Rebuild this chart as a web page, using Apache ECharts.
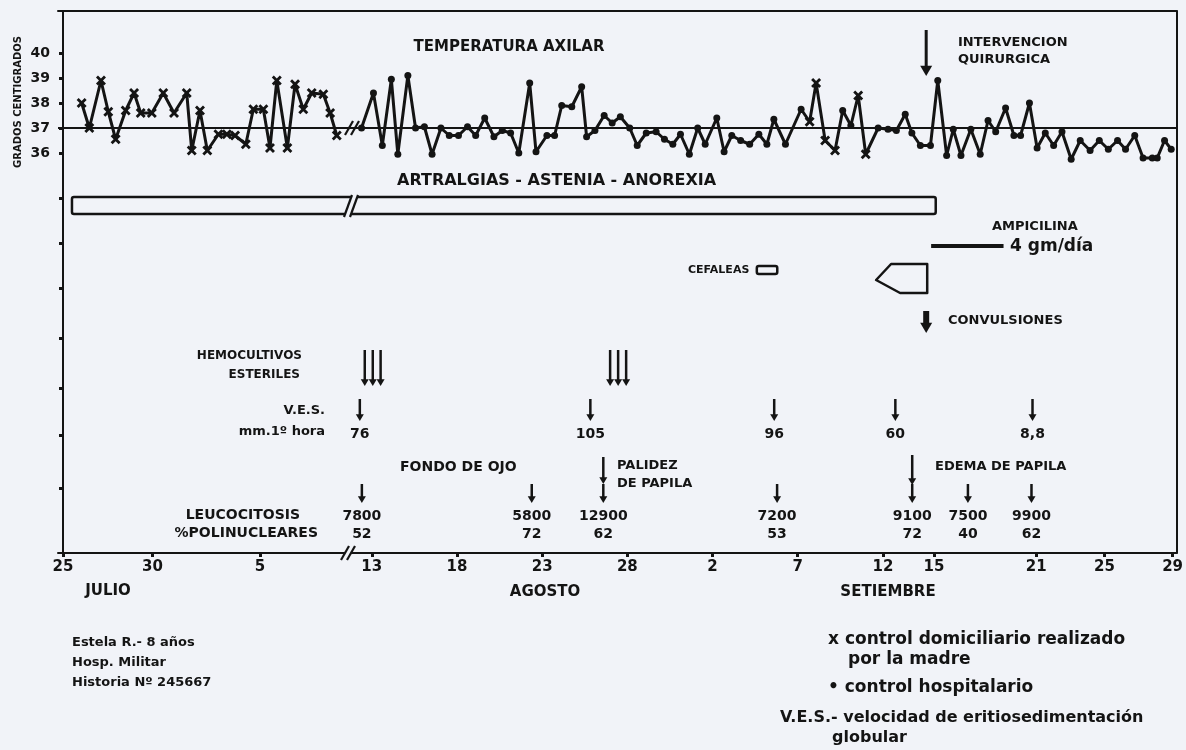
<!DOCTYPE html>
<html>
<head>
<meta charset="utf-8">
<title>Temperatura axilar</title>
<script src="https://cdn.jsdelivr.net/npm/echarts@6/dist/echarts.min.js"></script>
<style>
html, body { margin: 0; padding: 0; background: #f1f3f8; }
#chart { width: 1186px; height: 750px; }
</style>
</head>
<body>
<div id="chart"></div>
<script>
// days are counted from 25 July (0) ; the axis is broken around 9-11 August
var tickDays   = [0, 5, 11, 19, 24, 29, 34, 39, 44, 49, 52, 58, 62, 66];
var tickLabels = ['25', '30', '5', '13', '18', '23', '28', '2', '7', '12', '15', '21', '25', '29'];
var tempTicks  = [36, 37, 38, 39, 40];

// control domiciliario (x) before the break
var homeDay  = [1.04, 1.47, 2.12, 2.53, 2.94, 3.50, 3.97, 4.34, 4.96, 5.60, 6.20, 6.91, 7.19, 7.65, 8.06,
                8.68, 9.15, 9.61, 10.21, 10.63, 11.19, 11.56, 11.94, 12.53, 12.96, 13.42, 13.89, 14.54, 14.92, 15.29];
var homeTemp = [38.0, 37.0, 38.9, 37.65, 36.55, 37.7, 38.4, 37.6, 37.6, 38.4, 37.6, 38.4, 36.1, 37.7, 36.1,
                36.75, 36.75, 36.7, 36.35, 37.75, 37.75, 36.2, 38.9, 36.2, 38.75, 37.75, 38.4, 38.35, 37.6, 36.7];

// control hospitalario (.) after the break
var hospDay  = [18.40, 19.10, 19.62, 20.15, 20.53, 21.12, 21.57, 22.09, 22.54, 23.06, 23.55, 24.09, 24.62, 25.10,
                25.63, 26.17, 26.66, 27.15, 27.63, 28.27, 28.64, 29.28, 29.73, 30.15, 30.74, 31.32, 31.61, 32.10,
                32.64, 33.11, 33.59, 34.14, 34.58, 35.11, 35.69, 36.18, 36.67, 37.12, 37.64, 38.13, 38.57, 39.25,
                39.68, 40.13, 40.65, 41.18, 41.72, 42.19, 42.60, 43.28, 44.20, 44.70, 45.08, 45.61, 46.19, 46.64,
                47.12, 47.55, 47.99, 48.72, 49.30, 49.79, 50.31, 50.70, 51.20, 51.79, 52.22, 52.74, 53.13, 53.58,
                54.16, 54.71, 55.17, 55.62, 56.20, 56.69, 57.08, 57.60, 58.05, 58.53, 59.02, 59.51, 60.05, 60.58,
                61.16, 61.70, 62.23, 62.77, 63.24, 63.78, 64.27, 64.81, 65.10, 65.53, 65.92];
var hospTemp = [37.0, 38.4, 36.3, 38.95, 35.95, 39.1, 37.0, 37.05, 35.95, 37.0, 36.7, 36.7, 37.05, 36.7,
                37.4, 36.65, 36.9, 36.8, 36.0, 38.8, 36.05, 36.7, 36.7, 37.9, 37.85, 38.65, 36.65, 36.9,
                37.5, 37.2, 37.45, 37.0, 36.3, 36.8, 36.85, 36.55, 36.35, 36.75, 35.95, 37.0, 36.35, 37.4,
                36.05, 36.7, 36.5, 36.35, 36.75, 36.35, 37.35, 36.35, 37.75, 37.25, 38.8, 36.5, 36.1, 37.7,
                37.1, 38.3, 35.95, 37.0, 36.95, 36.9, 37.55, 36.8, 36.3, 36.3, 38.9, 35.9, 36.95, 35.9,
                36.95, 35.95, 37.3, 36.85, 37.8, 36.7, 36.7, 38.0, 36.2, 36.8, 36.3, 36.85, 35.75, 36.5,
                36.1, 36.5, 36.15, 36.5, 36.15, 36.7, 35.8, 35.8, 35.8, 36.5, 36.15];
// readings of the second period also taken at home
var homeLateDay = [44.70, 45.08, 45.61, 46.19, 47.55, 47.99];

// events and laboratory
var surgeryDay = 51.54;
var symptomSpan = [0.5, 52.1];      // artralgias - astenia - anorexia
var cefaleaSpan = [41.6, 42.8];
var cefaleaLate = [48.6, 51.6];
var ampicilinaSpan = [51.83, 56.08];
var convulsionDay = 51.54;
var hemoDay = [18.59, 19.06, 19.52, 32.99, 33.46, 33.93];
var vesDay = [18.3, 31.83, 42.62, 49.73, 57.78];
var vesValue = ['76', '105', '96', '60', '8,8'];
var palidezDay = 32.59;
var edemaDay = 50.72;
var leucoDay = [18.42, 28.39, 32.59, 42.79, 50.72, 53.99, 57.72];
var leucoCount = ['7800', '5800', '12900', '7200', '9100', '7500', '9900'];
var leucoPoly = ['52', '72', '62', '53', '72', '40', '62'];

var INK = '#141414';
var FONT = '"DejaVu Sans", sans-serif';
var X_MARK = 'path://M2,0 L5,3 L8,0 L10,2 L7,5 L10,8 L8,10 L5,7 L2,10 L0,8 L3,5 L0,2 Z';

function pairs(xs, ys) {
  return xs.map(function (x, i) { return [x, ys[i]]; });
}

var hospData = hospDay.map(function (d, i) {
  var atHome = homeLateDay.indexOf(d) >= 0;
  return { value: [d, hospTemp[i]], symbol: atHome ? X_MARK : 'circle', symbolSize: atHome ? 10 : 7 };
});

function tickLabel(v) {
  var i = tickDays.indexOf(v);
  return i < 0 ? '' : tickLabels[i];
}

var axisFont = { color: INK, fontFamily: FONT, fontWeight: 'bold', fontSize: 15 };
var line37 = {
  silent: true, symbol: 'none', label: { show: false },
  lineStyle: { color: INK, width: 2, type: 'solid' },
  data: [{ yAxis: 37 }]
};

var option = {
  backgroundColor: '#f1f3f8',
  animation: false,
  grid: [
    { left: 58, width: 287, top: 11, bottom: 197 },
    { left: 345, right: 4, top: 11, bottom: 197 }
  ],
  xAxis: [
    {
      gridIndex: 0, type: 'value', min: -0.28, max: 15.75, position: 'bottom',
      axisLine: { lineStyle: { color: INK, width: 2 } },
      axisTick: { customValues: tickDays.filter(function (d) { return d < 16; }), length: 4, lineStyle: { color: INK, width: 3 } },
      axisLabel: { customValues: tickDays.filter(function (d) { return d < 16; }), formatter: tickLabel, margin: 7 },
      splitLine: { show: false }
    },
    {
      gridIndex: 1, type: 'value', min: 17.43, max: 66.23, position: 'bottom',
      axisLine: { lineStyle: { color: INK, width: 2 } },
      axisTick: { customValues: tickDays.filter(function (d) { return d > 16; }), length: 4, lineStyle: { color: INK, width: 3 } },
      axisLabel: { customValues: tickDays.filter(function (d) { return d > 16; }), formatter: tickLabel, margin: 7, showMaxLabel: true },
      splitLine: { show: false }
    },
    {
      gridIndex: 0, type: 'value', min: -0.28, max: 15.75, position: 'top',
      axisLine: { lineStyle: { color: INK, width: 2 } },
      axisTick: { show: false }, axisLabel: { show: false }, splitLine: { show: false }
    },
    {
      gridIndex: 1, type: 'value', min: 17.43, max: 66.23, position: 'top',
      axisLine: { lineStyle: { color: INK, width: 2 } },
      axisTick: { show: false }, axisLabel: { show: false }, splitLine: { show: false }
    }
  ],
  yAxis: [
    {
      gridIndex: 0, type: 'value', min: 20, max: 41.68, position: 'left',
      axisLine: { show: true, lineStyle: { color: INK, width: 2 } },
      axisTick: { show: true, customValues: [22.6, 24.7, 26.6, 28.6, 30.6, 32.4, 34.2, 36, 37, 38, 39, 40], length: 4, lineStyle: { color: INK, width: 3 } },
      axisLabel: { customValues: tempTicks, margin: 8, fontSize: 14 },
      splitLine: { show: false }
    },
    {
      gridIndex: 1, type: 'value', min: 20, max: 41.68, position: 'right',
      axisLine: { show: true, lineStyle: { color: INK, width: 2 } },
      axisTick: { show: false }, axisLabel: { show: false }, splitLine: { show: false }
    }
  ],
  series: [
    {
      name: 'control domiciliario', type: 'line', xAxisIndex: 0, yAxisIndex: 0,
      data: pairs(homeDay, homeTemp),
      symbol: X_MARK, symbolSize: 10,
      itemStyle: { color: INK }, lineStyle: { color: INK, width: 3 },
      markLine: line37
    },
    {
      name: 'control hospitalario', type: 'line', xAxisIndex: 1, yAxisIndex: 1,
      data: hospData,
      symbol: 'circle', symbolSize: 7,
      itemStyle: { color: INK }, lineStyle: { color: INK, width: 3 },
      markLine: line37
    }
  ]
};
option.xAxis.forEach(function (a) { a.axisLabel = Object.assign({}, axisFont, a.axisLabel); });
option.yAxis[0].axisLabel = Object.assign({}, axisFont, option.yAxis[0].axisLabel);

var myChart = echarts.init(document.getElementById('chart'));
myChart.setOption(option);

function txt(s, x, y, size, align) {
  return {
    type: 'text', z: 10,
    style: { text: s, x: x, y: y, fill: INK, font: 'bold ' + size + 'px ' + FONT,
             textAlign: align || 'left', textVerticalAlign: 'middle' }
  };
}

function arrow(x, y1, y2, w, hw) {
  hw = hw || 5;
  var hl = hw * 1.7;
  return [
    { type: 'line', z: 10, shape: { x1: x, y1: y1, x2: x, y2: y2 - hl + 1 }, style: { stroke: INK, lineWidth: w } },
    { type: 'polygon', z: 10, shape: { points: [[x - hw, y2 - hl], [x + hw, y2 - hl], [x, y2]] }, style: { fill: INK } }
  ];
}

function slashes(x, y, h, gapFill) {
  var out = [];
  if (gapFill) {
    out.push({ type: 'polygon', z: 11, shape: { points: [[x - 4, y + h], [x + 2, y + h], [x + 10, y - h], [x + 4, y - h]] },
               style: { fill: '#f1f3f8' } });
  }
  [0, 6].forEach(function (o) {
    out.push({ type: 'line', z: 12, shape: { x1: x - 4 + o, y1: y + h, x2: x + 4 + o, y2: y - h },
               style: { stroke: INK, lineWidth: 2.2 } });
  });
  return out;
}

function notes() {
  var px = function (d) { return myChart.convertToPixel({ xAxisIndex: 1 }, d); };
  var pxL = function (d) { return myChart.convertToPixel({ xAxisIndex: 0 }, d); };
  var yT = function (t) { return myChart.convertToPixel({ yAxisIndex: 0 }, t); };
  var g = [];

  g.push({ type: 'text', z: 10, x: 18, y: 102, rotation: Math.PI / 2,
           style: { text: 'GRADOS CENTIGRADOS', fill: INK, font: 'bold 10px ' + FONT, textAlign: 'center', textVerticalAlign: 'middle' } });
  g.push(txt('TEMPERATURA AXILAR', 509, 47, 15, 'center'));

  // break marks
  g = g.concat(slashes(349, yT(37), 7, false));
  g = g.concat(slashes(348, 206, 11, true));
  g = g.concat(slashes(345, 553, 7, true));

  // surgery
  var xs = px(surgeryDay);
  g = g.concat(arrow(xs, 30, 76, 3, 6));
  g.push(txt('INTERVENCION', 958, 43, 13));
  g.push(txt('QUIRURGICA', 958, 60, 13));

  // symptoms bar
  g.push(txt('ARTRALGIAS - ASTENIA - ANOREXIA', 397, 181, 16));
  var bx0 = pxL(symptomSpan[0]), bx1 = px(symptomSpan[1]);
  g.push({ type: 'rect', z: 9, shape: { x: bx0, y: 197, width: bx1 - bx0, height: 17, r: 2 },
           style: { fill: 'none', stroke: INK, lineWidth: 2.5 } });

  // ampicilina
  var a0 = px(ampicilinaSpan[0]), a1 = px(ampicilinaSpan[1]);
  g.push({ type: 'line', z: 10, shape: { x1: a0, y1: 246, x2: a1, y2: 246 }, style: { stroke: INK, lineWidth: 4 } });
  g.push(txt('AMPICILINA', 992, 227, 13));
  g.push(txt('4 gm/día', 1010, 247, 17));

  // cefaleas
  g.push(txt('CEFALEAS', 688, 270, 11));
  var c0 = px(cefaleaSpan[0]), c1 = px(cefaleaSpan[1]);
  g.push({ type: 'rect', z: 10, shape: { x: c0, y: 266, width: c1 - c0, height: 8, r: 2 },
           style: { fill: 'none', stroke: INK, lineWidth: 2.5 } });
  var p0 = px(cefaleaLate[0]), p1 = px(cefaleaLate[1]);
  g.push({ type: 'polygon', z: 10,
           shape: { points: [[p0, 280], [p0 + 15, 264], [p1, 264], [p1, 293], [p0 + 24, 293]] },
           style: { fill: 'none', stroke: INK, lineWidth: 2.5, lineJoin: 'round' } });

  // convulsiones
  g = g.concat(arrow(px(convulsionDay), 311, 333, 6, 6));
  g.push(txt('CONVULSIONES', 948, 321, 13));

  // hemocultivos
  g.push(txt('HEMOCULTIVOS', 302, 356, 12, 'right'));
  g.push(txt('ESTERILES', 300, 375, 12, 'right'));
  hemoDay.forEach(function (d) { g = g.concat(arrow(px(d), 350, 386, 2.5, 4)); });

  // V.E.S.
  g.push(txt('V.E.S.', 325, 411, 13, 'right'));
  g.push(txt('mm.1º hora', 325, 432, 13, 'right'));
  vesDay.forEach(function (d, i) {
    var x = px(d);
    g = g.concat(arrow(x, 399, 421, 2.5, 4));
    g.push(txt(vesValue[i], x, 434, 14, 'center'));
  });

  // fondo de ojo
  g.push(txt('FONDO DE OJO', 400, 467, 14));
  var xp = px(palidezDay);
  g = g.concat(arrow(xp, 457, 484, 2.5, 4));
  g.push(txt('PALIDEZ', 617, 466, 13));
  g.push(txt('DE PAPILA', 617, 484, 13));
  var xe = px(edemaDay);
  g = g.concat(arrow(xe, 455, 485, 2.5, 4));
  g.push(txt('EDEMA DE PAPILA', 935, 467, 13));

  // leucocitosis
  g.push(txt('LEUCOCITOSIS', 300, 515, 14, 'right'));
  g.push(txt('%POLINUCLEARES', 318, 533, 14, 'right'));
  leucoDay.forEach(function (d, i) {
    var x = px(d);
    g = g.concat(arrow(x, 484, 503, 2.5, 4));
    g.push(txt(leucoCount[i], x, 516, 14, 'center'));
    g.push(txt(leucoPoly[i], x, 534, 14, 'center'));
  });

  // months
  g.push(txt('JULIO', 108, 591, 15, 'center'));
  g.push(txt('AGOSTO', 545, 592, 15, 'center'));
  g.push(txt('SETIEMBRE', 888, 592, 15, 'center'));

  // patient
  g.push(txt('Estela R.- 8 años', 72, 643, 13));
  g.push(txt('Hosp. Militar', 72, 663, 13));
  g.push(txt('Historia Nº 245667', 72, 683, 13));

  // key
  g.push(txt('x control domiciliario realizado', 828, 640, 17));
  g.push(txt('por la madre', 848, 660, 17));
  g.push(txt('• control hospitalario', 828, 688, 17));
  g.push(txt('V.E.S.- velocidad de eritiosedimentación', 780, 718, 16));
  g.push(txt('globular', 832, 738, 16));

  myChart.setOption({ graphic: g });
}
notes();

window.addEventListener('resize', function () {
  myChart.resize();
  notes();
});
</script>
</body>
</html>
